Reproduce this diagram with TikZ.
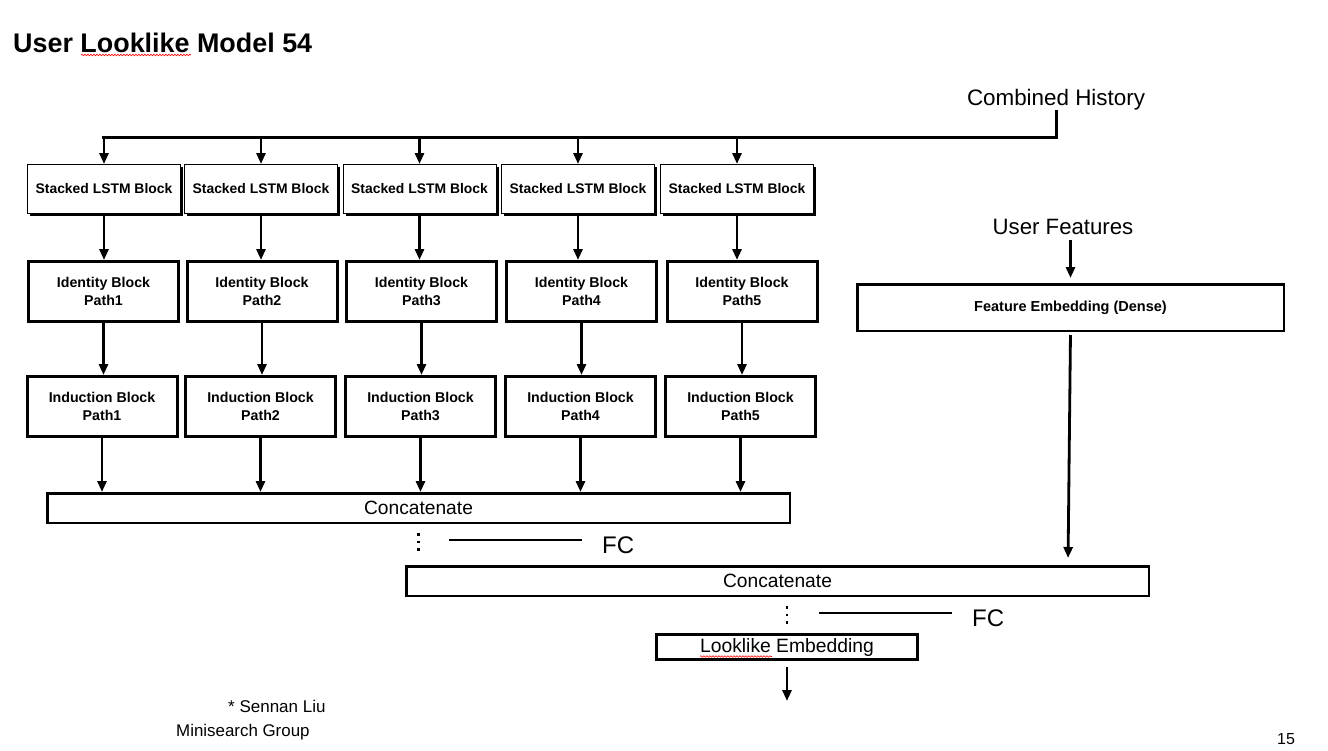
\documentclass[tikz,border=0pt]{standalone}
\usepackage{fontspec}
\setmainfont{Liberation Sans}
\usetikzlibrary{arrows.meta,shadows,decorations.pathmorphing}

\tikzset{
  lstmbox/.style={draw, line width=1pt, fill=white, minimum width=153pt, minimum height=49pt,
    inner sep=0pt, font=\fontsize{13.9}{16}\selectfont\bfseries,
    drop shadow={shadow xshift=2.5pt, shadow yshift=-2.5pt, fill=black, opacity=1}},
  pathbox/.style={draw, line width=3pt, minimum width=150pt, minimum height=60pt,
    inner sep=0pt, align=center, font=\fontsize{14.2}{18}\selectfont\bfseries},
  catbox/.style={draw, line width=2.5pt, minimum width=742.5pt, minimum height=29.5pt,
    inner sep=0pt, font=\fontsize{19.2}{22}\selectfont},
  plaintext/.style={inner sep=0pt},
  flow/.style={line width=2.8pt, -{Triangle[length=11pt,width=9pt]}},
  fcdots/.style={line width=2.5pt, dash pattern=on 2.5pt off 5pt},
  fcline/.style={line width=1.2pt},
  squiggle/.style={red, line width=0.6pt, decorate, decoration={snake, amplitude=0.8pt, segment length=3pt}}
}

\begin{document}
\begin{tikzpicture}[x=1pt, y=-1pt]
    \useasboundingbox (0,0) rectangle (1328,750);

    % Title
    \node[plaintext, anchor=base west, font=\fontsize{26.9}{30}\selectfont\bfseries] (title) at (13,52) {User Looklike Model 54};
    \draw[squiggle] (81,55) -- (191,55);

    % Inputs
    \node[plaintext, anchor=base, font=\fontsize{22.4}{26}\selectfont] (hist) at (1056,105) {Combined History};
    \node[plaintext, anchor=base, font=\fontsize{22.2}{26}\selectfont] (ufeat) at (1063,234) {User Features};
    \coordinate (bus) at (102,137);
    \draw[line width=3pt] (hist.south) |- (bus);

    % Five paths
    \foreach \i/\xa/\xb/\xc in {1/104/103.5/102, 2/261/262/260.5, 3/419.5/421.5/420.5, 4/578/581.5/580.5, 5/737/742/740.5} {
      \node[lstmbox] (lstm\i) at (\xa,189) {Stacked LSTM Block};
      \node[pathbox] (id\i) at (\xb,291.5) {Identity Block\\Path\i};
      \node[pathbox] (ind\i) at (\xc,406.5) {Induction Block\\Path\i};
      \draw[flow] (lstm\i.north |- bus) -- (lstm\i.north);
      \draw[flow] (lstm\i.south) -- (lstm\i.south |- id\i.north);
      \draw[flow] (id\i.south) -- (id\i.south |- ind\i.north);
    }

    % Concatenation layers
    \node[catbox] (cat1) at (418.5,508) {Concatenate};
    \node[catbox] (cat2) at (777.5,581) {Concatenate};
    \foreach \i in {1,...,5}
      \draw[flow] (ind\i.south) -- (ind\i.south |- cat1.north);

    % Feature branch
    \node[draw, line width=2.5pt, minimum width=426.5pt, minimum height=46.5pt, inner sep=0pt,
      font=\fontsize{14.5}{17}\selectfont\bfseries] (feat) at (1070.5,307.5) {Feature Embedding (Dense)};
    \draw[flow, shorten <=6pt, shorten >=5pt] (ufeat.south -| feat.north) -- (feat.north);
    \draw[flow, shorten <=3pt, shorten >=7pt] (feat.south) -- ([xshift=-2.5pt]feat.south |- cat2.north);

    % FC layers
    \node[plaintext, anchor=base west, font=\fontsize{24}{28}\selectfont] (fc1) at (602,553) {FC};
    \node[plaintext, anchor=base west, font=\fontsize{24}{28}\selectfont] (fc2) at (972,626) {FC};
    \node[draw, line width=3pt, minimum width=261pt, minimum height=25pt, inner sep=0pt, text height=15pt,
      font=\fontsize{19.3}{22}\selectfont] (look) at (787,647) {Looklike Embedding};
    \draw[squiggle] (700,656.5) -- (772,656.5);
    \draw[fcdots, shorten <=9pt, shorten >=13pt] (cat1.south) -- (cat1.south |- cat2.north);
    \draw[fcdots, shorten <=9pt, shorten >=9pt] (cat2.south -| look.north) -- (look.north);
    \coordinate (fcA) at (449,540);
    \coordinate (fcB) at (819,613);
    \draw[fcline, shorten >=20pt] (fcA) -- (fcA -| fc1.west);
    \draw[fcline, shorten >=20pt] (fcB) -- (fcB -| fc2.west);

    % Output
    \coordinate (out) at (787,701);
    \draw[flow, shorten <=6pt] (look.south) -- (out);

    % Footer
    \node[plaintext, anchor=base west, font=\fontsize{17}{20}\selectfont] (author) at (228,712) {* Sennan Liu};
    \node[plaintext, anchor=base west, font=\fontsize{16.9}{20}\selectfont] (group) at (176,736) {Minisearch Group};
    \node[plaintext, anchor=base west, font=\fontsize{16}{19}\selectfont] (page) at (1277,744) {15};
\end{tikzpicture}
\end{document}
